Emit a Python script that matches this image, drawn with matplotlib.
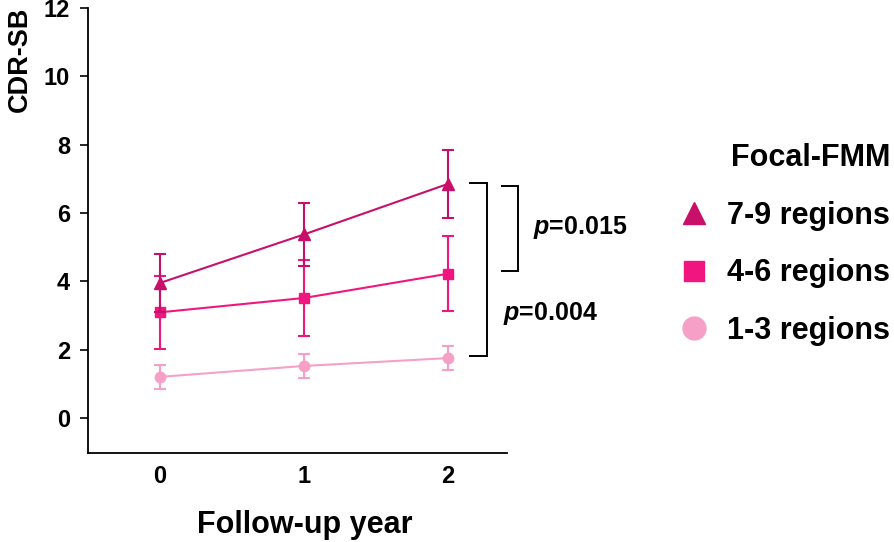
import matplotlib
matplotlib.use("Agg")
import matplotlib.pyplot as plt
from matplotlib.lines import Line2D

plt.rcParams['font.family'] = ['Liberation Sans', 'DejaVu Sans']
plt.rcParams['font.weight'] = 'bold'
plt.rcParams['mathtext.fontset'] = 'custom'
plt.rcParams['mathtext.it'] = 'Liberation Sans:italic:bold'
plt.rcParams['mathtext.bf'] = 'Liberation Sans:bold'
plt.rcParams['mathtext.rm'] = 'Liberation Sans:bold'

years = [0, 1, 2]
series_labels = ["7-9 regions", "4-6 regions", "1-3 regions"]
mean_79 = [3.95, 5.37, 6.85]
err_79 = [0.85, 0.92, 1.0]
mean_46 = [3.09, 3.51, 4.22]
err_46 = [1.07, 1.1, 1.1]
mean_13 = [1.20, 1.52, 1.75]
err_13 = [0.35, 0.35, 0.36]
colors = ["#C8106A", "#F0167F", "#F6A0C8"]
markers = ["^", "s", "o"]
plot_msize = [9, 7.5, 7.5]
legend_msize = [16.5, 14.5, 16.5]
p_labels = ["0.015", "0.004"]

fig = plt.figure(figsize=(8.94, 5.42), dpi=100)
ax = fig.add_axes([88/894, 1-452.7/542, (507-88)/894, (452.7-8)/542])

means = [mean_79, mean_46, mean_13]
errs = [err_79, err_46, err_13]
for i in [2, 1, 0]:
    ax.errorbar(years, means[i], yerr=errs[i], color=colors[i], marker=markers[i],
                markersize=plot_msize[i], linewidth=1.5, elinewidth=1.5,
                capsize=4.5, capthick=1.5, zorder=3 + (2 - i))

ax.set_xlim(-0.5, 2.41)
ax.set_ylim(-1.02, 12)
ax.set_yticks(range(0, 13, 2))
ax.set_xticks(years)
ax.tick_params(axis='x', length=0, pad=9, labelsize=17)
ax.tick_params(axis='y', length=6, width=1.2, direction='out', labelsize=17, pad=7)
for lab in ax.get_xticklabels() + ax.get_yticklabels():
    lab.set_fontweight('bold')
ax.spines['top'].set_visible(False)
ax.spines['right'].set_visible(False)
ax.spines['left'].set_linewidth(1.3)
ax.spines['bottom'].set_linewidth(1.3)
ax.set_xlabel("Follow-up year", fontsize=22, fontweight='bold')
ax.xaxis.set_label_coords(0.517, -0.129)
ax.set_ylabel("CDR-SB", fontsize=19.5, fontweight='bold')
ax.yaxis.set_label_coords(-0.131, 0.884)

# brackets
def bracket(x0, x1, y0, y1):
    ax.plot([x0, x1, x1, x0], [y0, y0, y1, y1], color='black', linewidth=1.4,
            clip_on=False, solid_joinstyle='miter')

bracket(2.153, 2.269, 6.88, 1.82)
bracket(2.373, 2.486, 6.78, 4.29)
ax.text(2.59, 5.58, r"$\it{p}$=" + p_labels[0], fontsize=18, fontweight='bold',
        va='center', ha='left', clip_on=False)
ax.text(2.385, 3.05, r"$\it{p}$=" + p_labels[1], fontsize=18, fontweight='bold',
        va='center', ha='left', clip_on=False)

# legend
handles = [Line2D([], [], linestyle='none', marker=markers[i], color=colors[i],
                  markersize=legend_msize[i]) for i in range(3)]
leg = fig.legend(handles, series_labels, loc='upper left', bbox_to_anchor=(666/894, 1-131/542),
                 frameon=False, title="Focal-FMM", fontsize=22, title_fontsize=22,
                 handlelength=1.0, handletextpad=0.6, labelspacing=0.9, alignment='right',
                 borderaxespad=0)
leg.get_title().set_fontweight('bold')
for t in leg.get_texts():
    t.set_fontweight('bold')

fig.savefig("out.png", dpi=100)
